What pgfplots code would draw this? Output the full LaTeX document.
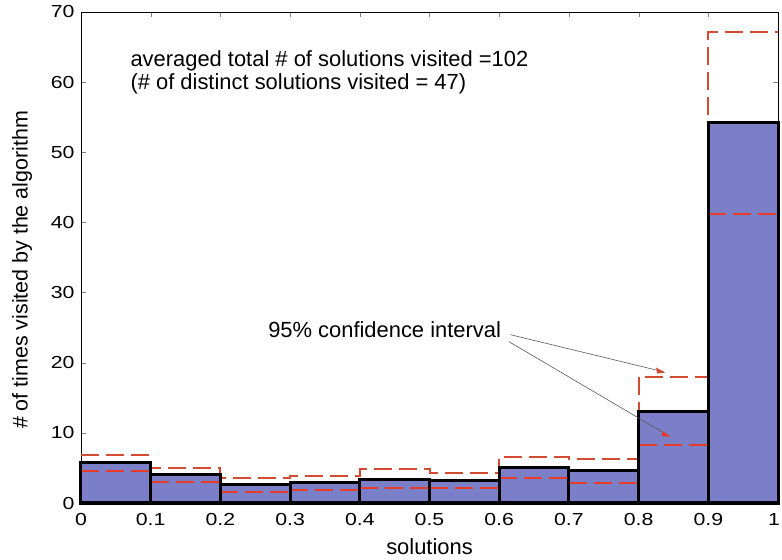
\documentclass[border=0pt]{standalone}
\usepackage{pgfplots}
\pgfplotsset{compat=1.18}
\usepackage{fontspec}
\setmainfont{Liberation Sans}
\newfontfamily\tickfont{Liberation Sans}[FakeStretch=1.22]
\definecolor{barfill}{RGB}{123,127,200}
\definecolor{ciup}{RGB}{210,75,50}
\definecolor{cilow}{RGB}{232,60,40}
\begin{document}
\begin{tikzpicture}
\begin{axis}[
  name=ax,
  scale only axis,
  width=697bp, height=491bp,
  xmin=0, xmax=1, ymin=0, ymax=70,
  xtick={0,0.1,0.2,0.3,0.4,0.5,0.6,0.7,0.8,0.9,1},
  xticklabels={0,0.1,0.2,0.3,0.4,0.5,0.6,0.7,0.8,0.9,1\hspace*{8bp}},
  ytick={0,10,20,30,40,50,60,70},
  tick pos=both, tick align=inside,
  major tick length=5bp,
  /pgf/number format/assume math mode=true,
  ticklabel style={font=\tickfont\fontsize{17.5}{20}\selectfont},
  xticklabel style={yshift=-7bp},
  yticklabel style={xshift=-3bp},
  xlabel={solutions},
  ylabel={\# of times visited by the algorithm},
  xlabel style={font=\fontsize{22}{26}\selectfont, at={(axis description cs:0.5,0)}, anchor=center, yshift=-44bp},
  ylabel style={font=\fontsize{21.5}{25}\selectfont, at={(axis description cs:-0.0846,0.4745)}, anchor=center},
  axis line style={line width=0.6bp},
  clip=false,
  unbounded coords=jump,
]
% bar fill
\addplot[ybar interval, fill=barfill, draw=none] coordinates {
 (0,5.8) (0.1,4.0) (0.2,2.6) (0.3,2.9) (0.4,3.4) (0.5,3.2) (0.6,5.0) (0.7,4.6) (0.8,13.0) (0.9,54.2) (1,54.2)};
% upper CI
\addplot[const plot, color=ciup, line width=2bp, dash pattern=on 18bp off 7bp] coordinates {
 (0,6.8) (0.1,5.0) (0.2,3.5) (0.3,3.9) (0.4,4.8) (0.5,4.3) (0.6,6.6) (0.7,6.3) (0.8,18.0) (0.9,67.2) (1,67.2)};
% lower CI
\addplot[color=cilow, line width=2bp, dash pattern=on 18bp off 7bp] coordinates {
 (0,4.6) (0.1,4.6) (0.1,nan)
 (0.1,3.0) (0.2,3.0) (0.2,nan)
 (0.2,1.5) (0.3,1.5) (0.3,nan)
 (0.3,1.9) (0.4,1.9) (0.4,nan)
 (0.4,2.2) (0.5,2.2) (0.5,nan)
 (0.5,2.2) (0.6,2.2) (0.6,nan)
 (0.6,3.6) (0.7,3.6) (0.7,nan)
 (0.7,2.9) (0.8,2.9) (0.8,nan)
 (0.8,8.3) (0.9,8.3) (0.9,nan)
 (0.9,41.2) (1,41.2)};
% bar outlines
\addplot[ybar interval, fill=none, draw=black, line width=3bp] coordinates {
 (0,5.8) (0.1,4.0) (0.2,2.6) (0.3,2.9) (0.4,3.4) (0.5,3.2) (0.6,5.0) (0.7,4.6) (0.8,13.0) (0.9,54.2) (1,54.2)};
% annotations
\node[anchor=west, align=left, font=\fontsize{22}{23}\selectfont] at (axis cs:0.066,61.4)
 {averaged total \# of solutions visited =102\\(\# of distinct solutions visited = 47)};
\node[font=\fontsize{22}{24}\selectfont] at (axis cs:0.4356,24.7) {95\% confidence interval};
\draw[gray!70!black, line width=0.6bp] (axis cs:0.616,24.0) -- (axis cs:0.836,18.7);
\draw[gray!70!black, line width=0.6bp] (axis cs:0.614,23.0) -- (axis cs:0.843,9.6);
\fill[ciup] (axis cs:0.838,18.6) -- ++(-9bp,5bp) -- ++(1bp,-6bp) -- cycle;
\fill[cilow] (axis cs:0.846,9.4) -- ++(-8bp,6bp) -- ++(-1bp,-5bp) -- cycle;
\end{axis}
\pgfresetboundingbox
\path ([shift={(-81bp,-57bp)}]ax.south west) rectangle ([shift={(4bp,12bp)}]ax.north east);
\end{tikzpicture}
\end{document}
